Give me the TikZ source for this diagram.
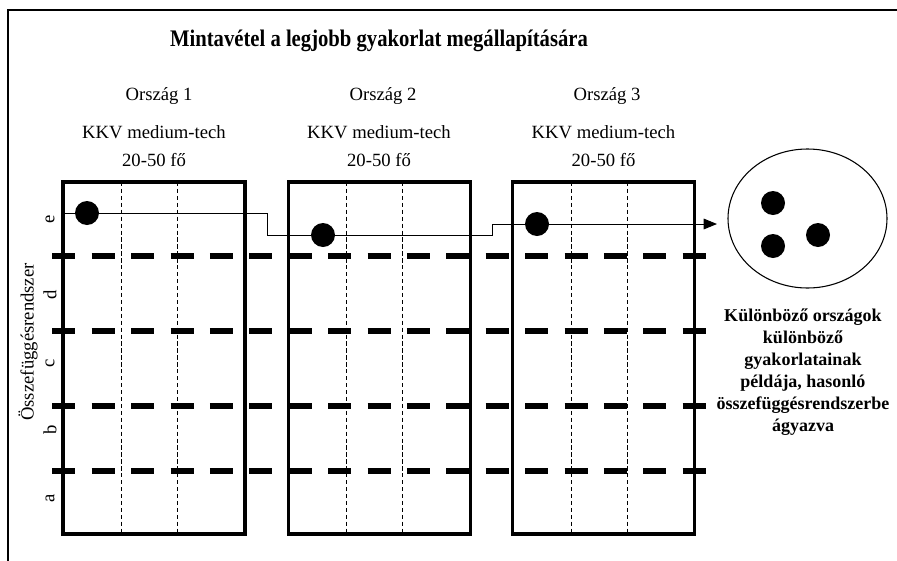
\documentclass[tikz,border=0pt]{standalone}
\usepackage{fontspec}
\setmainfont{Liberation Serif}
\usetikzlibrary{arrows.meta}
\begin{document}
\begin{tikzpicture}[x=0.75pt,y=-0.75pt,
  countrybox/.style={draw,line width=2.3pt,minimum width=136.5pt,minimum height=264pt,inner sep=0pt},
  thindash/.style={line width=0.7pt,dash pattern=on 3.2pt off 2pt},
  thickdash/.style={line width=3.8pt,dash pattern=on 17.25pt off 12.3pt},
  dot/.style={circle,fill=black,minimum size=18pt,inner sep=0pt},
  lbl/.style={font=\fontsize{14}{16}\selectfont,inner sep=0pt},
  rowlbl/.style={font=\fontsize{14}{16}\selectfont,rotate=90,inner sep=0pt},
  flow/.style={line width=0.75pt,-{Triangle[length=10pt,width=8pt]}}]
\useasboundingbox (0,0) rectangle (897,561);
% outer frame
\draw[line width=1.2pt] (8,561) -- (8,10) -- (897,10);
% title
\node[font=\fontsize{15.5}{18}\selectfont\bfseries,inner sep=0pt] (title) at (379,41) {\scalebox{1}[1.15]{Mintavétel a legjobb gyakorlat megállapítására}};
% country headings
\node[lbl] (o1) at (159,96) {Ország 1};
\node[lbl] (o2) at (383,96) {Ország 2};
\node[lbl] (o3) at (607,96) {Ország 3};
\node[lbl,align=center,font=\fontsize{14}{21}\selectfont] (k1) at (154,146) {KKV medium-tech\\20-50 fő};
\node[lbl,align=center,font=\fontsize{14}{21}\selectfont] (k2) at (379,146) {KKV medium-tech\\20-50 fő};
\node[lbl,align=center,font=\fontsize{14}{21}\selectfont] (k3) at (603.5,146) {KKV medium-tech\\20-50 fő};
% boxes
\node[countrybox] (b1) at (154,358) {};
\node[countrybox] (b2) at (379.5,358) {};
\node[countrybox] (b3) at (603.5,358) {};
% inner dashed columns
\foreach \x in {121,177,346,402,571,627}
  \draw[thindash] (\x,182) -- (\x,534);
% thick dashed rows
\foreach \y in {256,331,406,471}
  \draw[thickdash] (52.3,\y) -- (706,\y);
% row labels
\node[rowlbl] (le) at (50,219) {e};
\node[rowlbl] (ld) at (50,295) {d};
\node[rowlbl] (lc) at (50,363) {c};
\node[rowlbl] (lb) at (50,430) {b};
\node[rowlbl] (la) at (50,498) {a};
\node[rowlbl] (sys) at (28,342) {Összefüggésrendszer};
% flow path
\coordinate (p0) at (63,213);
\coordinate (p1) at (267,213);
\coordinate (p2) at (267,235);
\coordinate (p3) at (492,235);
\coordinate (p4) at (492,224);
\coordinate (tip) at (717,224);
\draw[flow] (p0) -- (p1) -- (p2) -- (p3) -- (p4) -- (tip);
% dots
\node[dot] (d1) at (87,213) {};
\node[dot] (d2) at (323,235) {};
\node[dot] (d3) at (537,224) {};
% result ellipse
\draw[line width=0.8pt] (807.5,218.5) ellipse [x radius=79.5, y radius=69.5];
\node[dot] (e1) at (773,203) {};
\node[dot] (e2) at (818,235) {};
\node[dot] (e3) at (773,246) {};
% result text
\node[align=center,inner sep=0pt,font=\fontsize{13.5}{16.5}\selectfont\bfseries] (res) at (803,372)
  {Különböző országok\\különböző\\gyakorlatainak\\példája, hasonló\\összefüggésrendszerbe\\ágyazva};
\end{tikzpicture}
\end{document}
